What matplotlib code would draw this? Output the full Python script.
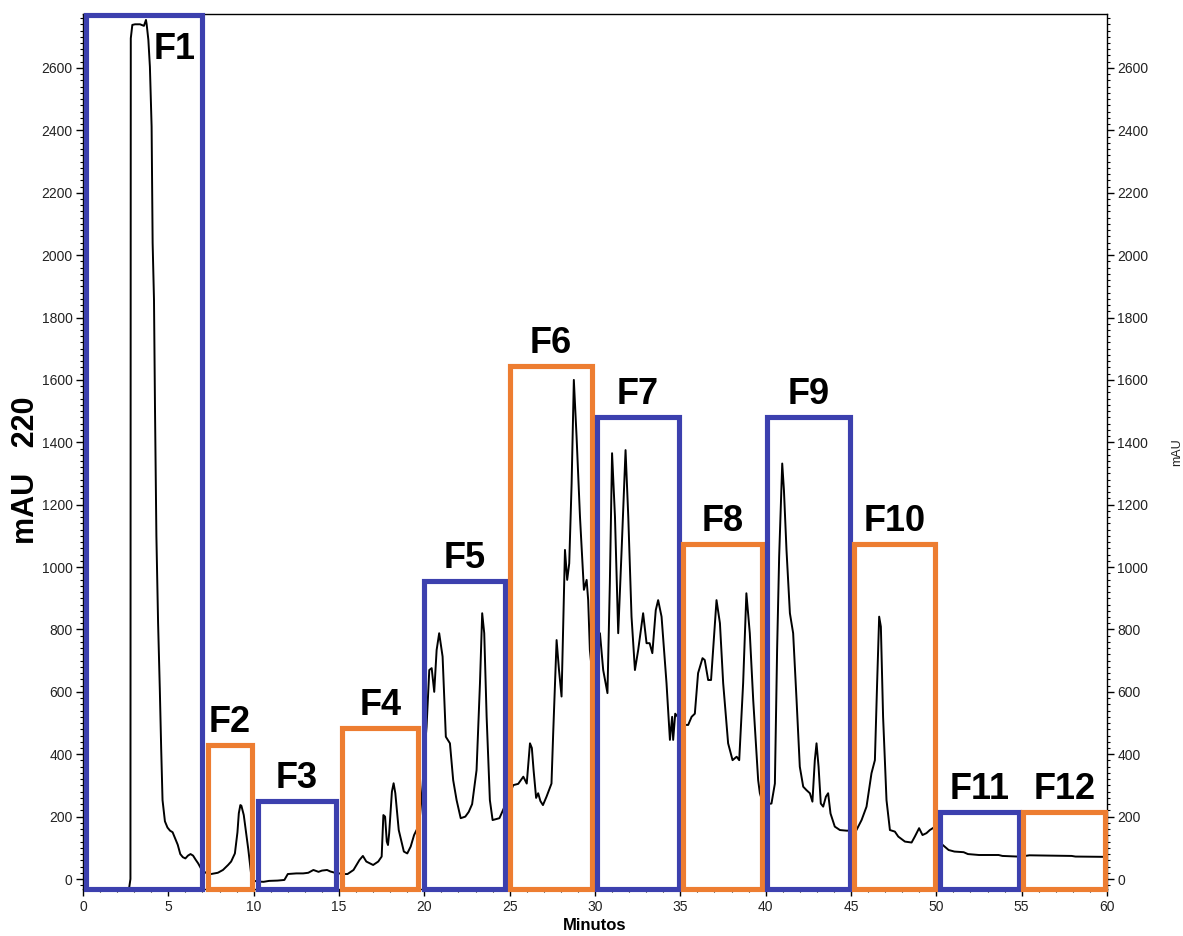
import matplotlib
matplotlib.use("Agg")
import matplotlib.pyplot as plt
from matplotlib.patches import Rectangle
from matplotlib.ticker import MultipleLocator

plt.rcParams['font.family'] = ['Liberation Sans', 'DejaVu Sans']

# chromatogram trace (minutes, mAU)
t = [0.0, 2.70, 2.78, 2.80, 2.89, 3.05, 3.34, 3.57, 3.69, 3.73, 3.83, 3.92, 4.02, 4.08,
     4.16, 4.22, 4.30, 4.40, 4.50, 4.58, 4.66, 4.80, 4.95, 5.10, 5.25, 5.40, 5.55, 5.70,
     5.85, 6.00, 6.15, 6.30, 6.45, 6.60, 6.75, 6.90, 7.05,
     7.20, 7.50, 7.90, 8.20, 8.50, 8.68, 8.90, 9.05, 9.13, 9.22, 9.28, 9.42, 9.55, 9.69,
     9.87, 10.0,
     10.2, 10.58, 10.9, 11.4, 11.8, 12.0, 12.5, 12.9, 13.2, 13.5, 13.8, 14.0, 14.3, 14.5,
     14.7, 15.0,
     15.3, 15.5, 15.85, 16.2, 16.4, 16.6, 17.0, 17.3, 17.5, 17.6, 17.7, 17.8, 17.87, 17.94,
     18.1, 18.2, 18.3, 18.5, 18.8, 19.0, 19.2, 19.4, 19.6, 19.75, 19.9,
     20.0, 20.13, 20.29, 20.43, 20.58, 20.72, 20.87, 21.07, 21.26, 21.5, 21.69, 21.89,
     22.13, 22.4, 22.6, 22.8, 23.06, 23.26, 23.39, 23.51, 23.65, 23.84, 24.0, 24.4, 24.7,
     24.9,
     25.21, 25.5, 25.8, 26.0, 26.19, 26.3, 26.4, 26.55, 26.67, 26.8, 26.95, 27.16, 27.45,
     27.55, 27.75, 27.89, 28.04, 28.24, 28.37, 28.49, 28.63, 28.76, 28.92, 29.12, 29.35,
     29.51, 29.6, 29.7, 29.85,
     30.1, 30.29, 30.48, 30.73, 30.87, 31.0, 31.17, 31.36, 31.56, 31.79, 31.95, 32.14,
     32.34, 32.53, 32.82, 33.02, 33.2, 33.36, 33.56, 33.7, 33.9, 34.19, 34.39, 34.52,
     34.58, 34.7, 34.85,
     35.3, 35.46, 35.66, 35.85, 36.04, 36.3, 36.43, 36.63, 36.8, 37.12, 37.32, 37.51,
     37.8, 38.06, 38.3, 38.45, 38.68, 38.87, 39.07, 39.27, 39.56, 39.66, 39.8,
     40.1, 40.34, 40.54, 40.67, 40.79, 40.93, 40.97, 41.07, 41.22, 41.42, 41.61, 41.81,
     42.0, 42.2, 42.39, 42.59, 42.74, 42.88, 42.98, 43.1, 43.23, 43.37, 43.53, 43.66,
     43.8, 44.05, 44.35, 44.74, 44.95,
     45.32, 45.62, 45.91, 46.2, 46.4, 46.53, 46.65, 46.75, 46.88, 47.08, 47.28, 47.57,
     47.77, 48.16, 48.55, 48.74, 48.99, 49.19, 49.42, 49.62, 49.85,
     50.25, 50.38, 50.72, 51.06, 51.6, 51.85, 52.5, 53.65, 53.87, 54.77,
     55.2, 55.45, 57.93, 58.15, 59.73, 60.0]
mau = [-30, -30, 0, 2695, 2738, 2740, 2740, 2735, 2754, 2740, 2690, 2604, 2412, 2039,
       1856, 1500, 1100, 820, 610, 420, 253, 185, 165, 155, 150, 130, 110, 80,
       70, 66, 75, 80, 75, 62, 50, 35, 25,
       20, 16, 20, 29, 45, 56, 82, 150, 211, 237, 235, 205, 150, 93,
       7, -5,
       -8, -9, -6, -5, -3, 16, 18, 18, 20, 29, 23, 27, 29, 24,
       21, 18,
       16, 16, 29, 61, 74, 56, 45, 56, 72, 205, 200, 120, 109, 147,
       280, 307, 275, 157, 88, 82, 104, 141, 163, 205, 300,
       400, 488, 670, 676, 600, 734, 788, 713, 456, 435, 317, 253,
       195, 200, 215, 240, 349, 628, 852, 788, 520, 253, 189, 195, 232,
       260,
       301, 305, 328, 306, 435, 420, 350, 260, 275, 250, 237, 264, 306,
       467, 766, 670, 585, 1055, 959, 1012, 1268, 1600, 1418, 1161, 927,
       959, 894, 734, 650,
       760, 788, 670, 596, 948, 1365, 1161, 788, 1055, 1375, 1161, 841,
       670, 734, 852, 756, 756, 724, 862, 894, 841, 628, 446, 520,
       446, 530, 520,
       494, 494, 520, 530, 660, 708, 702, 638, 638, 894, 820, 628,
       435, 381, 392, 381, 628, 916, 788, 574, 317, 275, 250,
       240, 242, 306, 734, 1033, 1268, 1332, 1247, 1055, 852, 788, 574,
       360, 296, 285, 275, 248, 381, 435, 360, 242, 232, 264, 275,
       210, 168, 157, 155, 155,
       157, 189, 232, 339, 381, 627, 841, 809, 520, 253, 157, 152,
       136, 120, 117, 136, 163, 141, 147, 157, 165,
       115, 109, 93, 88, 86, 80, 77, 77, 74, 72,
       74, 76, 74, 72, 71, 71]

# fractions: left edge, right edge, top (mAU)
frac_names = ['F1', 'F2', 'F3', 'F4', 'F5', 'F6', 'F7', 'F8', 'F9', 'F10', 'F11', 'F12']
frac_left = [0.15, 7.3, 10.25, 15.2, 20.0, 25.0, 30.1, 35.15, 40.05, 45.2, 50.2, 55.1]
frac_right = [7.0, 9.9, 14.8, 19.65, 24.75, 29.85, 34.9, 39.8, 44.95, 49.95, 54.85, 59.9]
frac_top = [2770, 430, 250, 485, 955, 1645, 1480, 1075, 1480, 1075, 215, 215]

BLUE = '#3C40AE'
ORANGE = '#ED7D31'
frac_colors = [BLUE, ORANGE] * 6

YMIN, YMAX = -32, 2773

fig = plt.figure(figsize=(11.83, 9.36), dpi=100)
ax = fig.add_axes([83 / 1183, 1 - 889 / 936, (1107 - 83) / 1183, (889 - 14) / 936])

ax.plot(t, mau, color='black', linewidth=1.4, zorder=2)

for i, name in enumerate(frac_names):
    rect = Rectangle((frac_left[i], YMIN), frac_right[i] - frac_left[i], frac_top[i] - YMIN,
                     fill=False, edgecolor=frac_colors[i], linewidth=3.7,
                     joinstyle='miter', clip_on=False, zorder=3)
    ax.add_patch(rect)
    if name == 'F1':
        # F1 sits inside its box, next to the peak
        ax.text(5.35, 2630, name, ha='center', va='baseline',
                fontsize=26, fontweight='bold', zorder=4)
    else:
        ax.text((frac_left[i] + frac_right[i]) / 2, frac_top[i] + 42, name,
                ha='center', va='baseline', fontsize=26, fontweight='bold', zorder=4)

ax.set_xlim(0, 60)
ax.set_ylim(YMIN, YMAX)
ax.xaxis.set_major_locator(MultipleLocator(5))
ax.xaxis.set_minor_locator(MultipleLocator(1))
ax.yaxis.set_minor_locator(MultipleLocator(20))
ax.set_yticks(range(0, 2601, 200))

ax.tick_params(axis='both', which='major', direction='out', length=5, width=1,
               labelsize=10, labelcolor='#222222', pad=3)
ax.tick_params(axis='both', which='minor', direction='out', length=2.5, width=0.8)
ax.tick_params(axis='y', which='both', left=True, right=True, labelleft=True, labelright=True)
ax.tick_params(axis='y', which='major', pad=2.5)

for side in ['top', 'right', 'left', 'bottom']:
    ax.spines[side].set_linewidth(1)
    ax.spines[side].set_color('black')

fig.text(26 / 1183, 1 - 470 / 936, 'mAU   220', rotation=90, ha='center', va='center',
         fontsize=22, fontweight='bold')
fig.text(1177 / 1183, 1 - 452 / 936, 'mAU', rotation=90, ha='center', va='center',
         fontsize=9, color='#222222')
fig.text(595 / 1183, 1 - 926 / 936, 'Minutos', ha='center', va='center',
         fontsize=12, fontweight='bold')

fig.savefig('out.png', dpi=100)
